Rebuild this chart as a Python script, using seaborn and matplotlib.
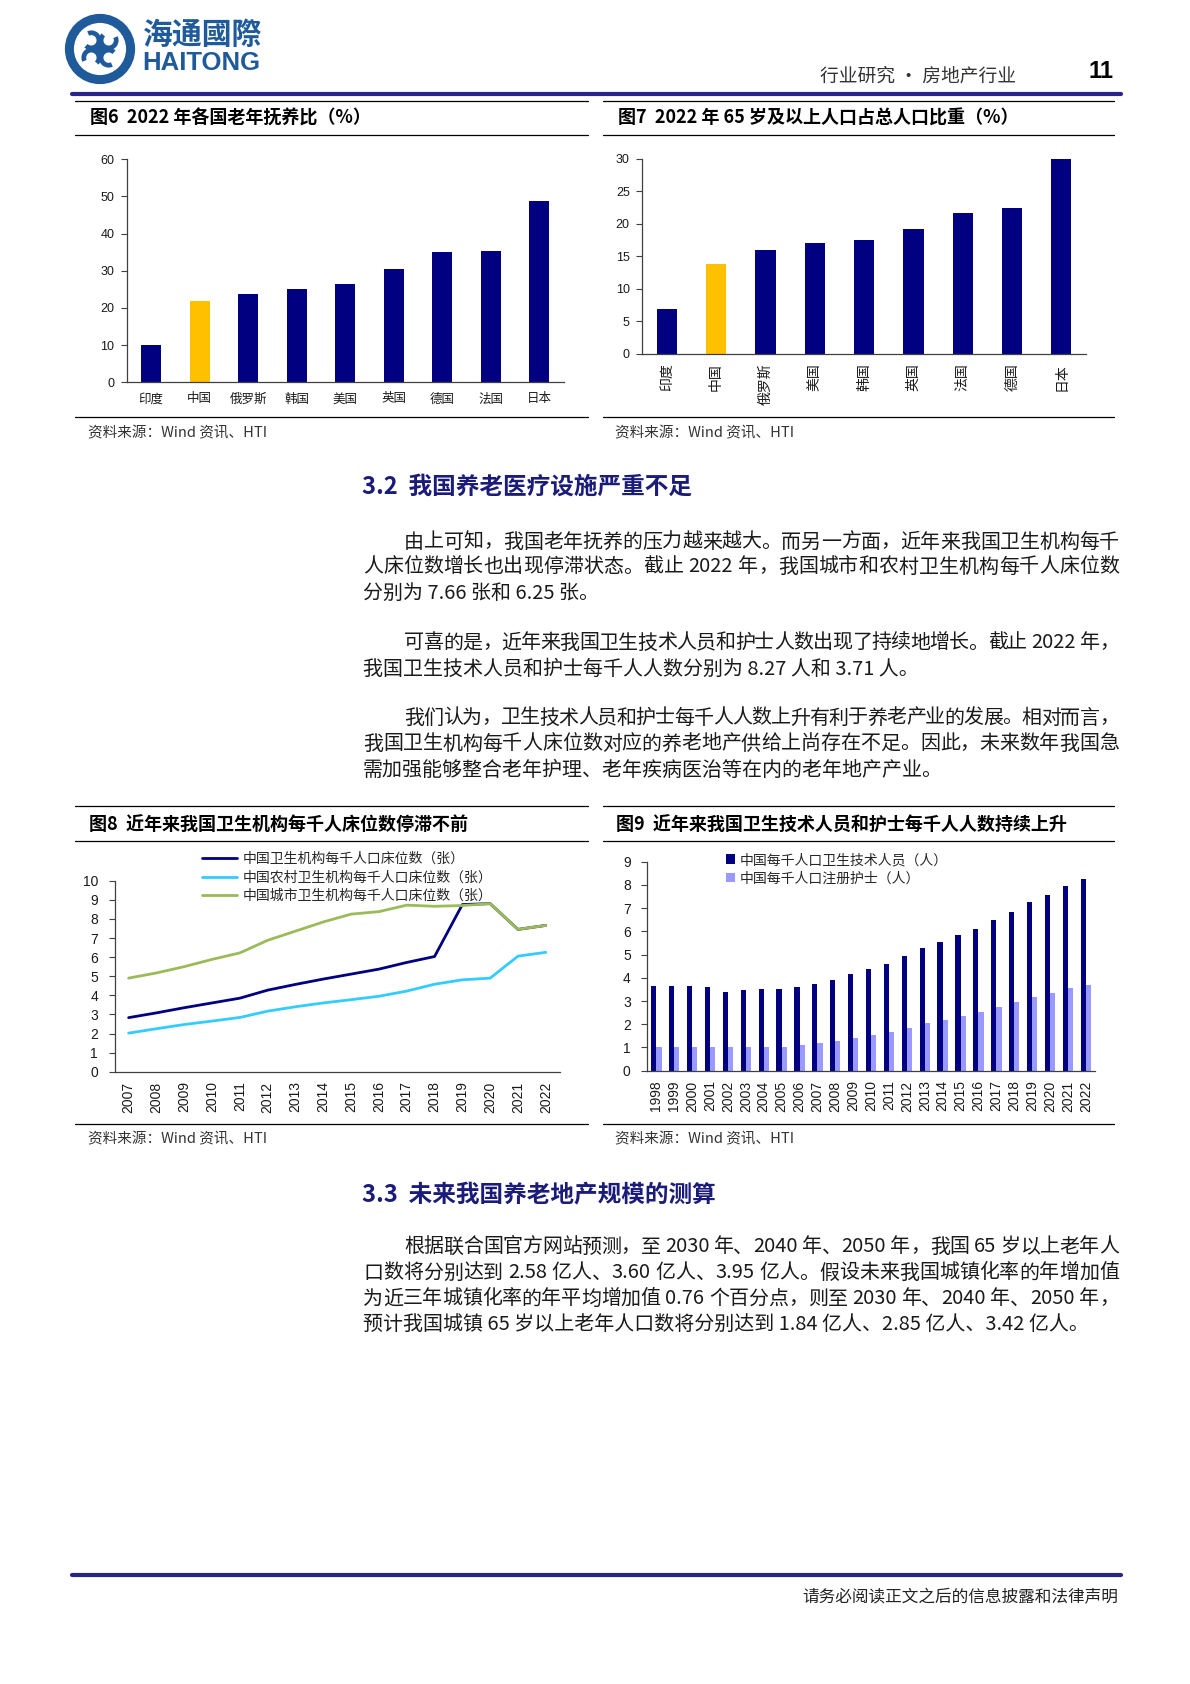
import re
import numpy as np
import pandas as pd
import matplotlib
matplotlib.use('Agg')
import matplotlib.pyplot as plt
import seaborn as sns
from matplotlib.lines import Line2D
from matplotlib.patches import Circle, Arc, Polygon

# ---------------- data ----------------
fig6_countries = ['印度', '中国', '俄罗斯', '韩国', '美国', '英国', '德国', '法国', '日本']
fig6_values = [10.0, 22.0, 23.8, 25.0, 26.5, 30.4, 35.1, 35.4, 48.8]

fig7_countries = ['印度', '中国', '俄罗斯', '美国', '韩国', '英国', '法国', '德国', '日本']
fig7_values = [6.9, 13.8, 15.9, 17.1, 17.5, 19.2, 21.7, 22.5, 30.0]

fig8_years = list(range(2007, 2023))
fig8_total = [2.83, 3.08, 3.35, 3.60, 3.85, 4.27, 4.57, 4.85, 5.11, 5.37, 5.72, 6.03, 8.75, 8.80, 7.45, 7.66]
fig8_rural = [2.02, 2.25, 2.47, 2.65, 2.84, 3.17, 3.40, 3.60, 3.77, 3.95, 4.22, 4.58, 4.81, 4.90, 6.05, 6.25]
fig8_urban = [4.90, 5.17, 5.50, 5.88, 6.22, 6.88, 7.36, 7.84, 8.25, 8.38, 8.72, 8.66, 8.70, 8.80, 7.45, 7.66]
fig8_labels = ['中国卫生机构每千人口床位数（张）',
               '中国农村卫生机构每千人口床位数（张）',
               '中国城市卫生机构每千人口床位数（张）']

fig9_years = [str(y) for y in range(1998, 2023)]
fig9_tech = [3.64, 3.64, 3.63, 3.62, 3.41, 3.48, 3.53, 3.50, 3.60, 3.72, 3.90, 4.15, 4.39,
             4.58, 4.94, 5.27, 5.56, 5.84, 6.12, 6.47, 6.83, 7.26, 7.57, 7.97, 8.27]
fig9_nurse = [1.00, 1.02, 1.02, 1.03, 1.00, 1.00, 1.03, 1.03, 1.09, 1.18, 1.27, 1.39, 1.52,
              1.66, 1.85, 2.04, 2.20, 2.37, 2.54, 2.74, 2.94, 3.18, 3.34, 3.56, 3.71]
fig9_labels = ['中国每千人口卫生技术人员（人）', '中国每千人口注册护士（人）']

# ---------------- style ----------------
sns.set_theme(style='white')
CJK = 'Noto Sans CJK SC'
plt.rcParams['font.family'] = ['Liberation Sans', CJK, 'DejaVu Sans']
plt.rcParams['axes.unicode_minus'] = False

NAVY = '#000080'
CHINA = '#FFC000'
CYAN = '#33CCFF'
GREEN = '#9BBB59'
LAV = '#9999FF'
HEAD = '#1B1B7A'
AXC = '#404040'
TXT = '#1a1a1a'

W, H = 1190, 1684
fig = plt.figure(figsize=(W / 100, H / 100), dpi=100)
fig.patch.set_facecolor('white')
renderer = fig.canvas.get_renderer()


def T(x, y, s, size, ha='left', va='center', family=None, **kw):
    return fig.text(x / W, 1 - y / H, s, fontsize=size, ha=ha, va=va,
                    family=family if family else [CJK, 'DejaVu Sans'], **kw)


def JT(x0, x1, y, s, size, **kw):
    """Justified line of body text between pixel x0 and x1."""
    toks = re.findall(r'[A-Za-z0-9.%]+| |.', s)
    objs, widths = [], []
    for t in toks:
        if t == ' ':
            objs.append(None)
            widths.append(0.25 * size * 100 / 72)
        else:
            o = T(0, y, t, size, **kw)
            objs.append(o)
            widths.append(o.get_window_extent(renderer).width)
    gap = (x1 - x0 - sum(widths)) / max(len(toks) - 1, 1)
    x = x0
    for o, w in zip(objs, widths):
        if o is not None:
            o.set_x(x / W)
        x += w + gap


def HL(x1, x2, y, lw=0.8, color='black'):
    fig.add_artist(Line2D([x1 / W, x2 / W], [1 - y / H, 1 - y / H],
                          transform=fig.transFigure, lw=lw, color=color))


def AX(l, t, r, b):
    return fig.add_axes([l / W, 1 - b / H, (r - l) / W, (b - t) / H])


def style_axes(ax, ymax, ystep, xlo, xhi, fs, xpad, ypad):
    ax.set_ylim(0, ymax)
    ax.set_yticks(np.arange(0, ymax + 1e-9, ystep))
    ax.set_xlim(xlo, xhi)
    ax.set_xticks(np.arange(xlo, xhi + 1e-9, 1.0), minor=True)
    for s in ['top', 'right']:
        ax.spines[s].set_visible(False)
    for s in ['left', 'bottom']:
        ax.spines[s].set_color(AXC)
        ax.spines[s].set_linewidth(0.9)
    ax.tick_params(axis='x', which='major', length=0, pad=xpad, labelsize=fs, colors=TXT)
    ax.tick_params(axis='x', which='minor', length=4, width=0.8, direction='out', color=AXC)
    ax.tick_params(axis='y', which='major', length=4, width=0.8, direction='out',
                   color=AXC, pad=ypad, labelsize=fs, labelcolor=TXT, left=True)
    ax.set_xlabel('')
    ax.set_ylabel('')
    ax.grid(False)
    ax.set_facecolor('white')


# ---------------- header ----------------
lax = fig.add_axes([64 / W, 1 - 85 / H, 72 / W, 72 / H])
lax.set_xlim(-1, 1)
lax.set_ylim(-1, 1)
lax.set_aspect('equal')
lax.axis('off')
LOGO = '#1F5B9B'
lax.add_patch(Circle((0, 0), 0.85, fill=False, lw=6.5, color=LOGO))
for k in range(4):
    a = np.deg2rad(45 + 90 * k)
    cx, cy = 0.34 * np.cos(a), 0.34 * np.sin(a)
    lax.add_patch(Arc((cx, cy), 0.42, 0.42, angle=np.rad2deg(a) + 90,
                      theta1=0, theta2=250, lw=3.4, color=LOGO))
lax.add_patch(Polygon([[0, 0.12], [0.12, 0], [0, -0.12], [-0.12, 0]], closed=True, color=LOGO))

T(143, 35, '海通國際', 21.5, family=[CJK], color=LOGO, fontweight='bold')
T(142, 63, 'HAITONG', 18.5, family=['Liberation Sans'], color=LOGO, fontweight='bold')
T(1016, 76, '行业研究 · 房地产行业', 13.5, ha='right', color='#333333')
T(1113, 71, '11', 17, ha='right', family=['Liberation Sans'], fontweight='bold', color='black')
HL(72, 1121, 94, lw=3.0, color='#29248A')

# ---------------- figure 6 / 7 frames ----------------
TS = 13
HL(75, 588, 101, lw=0.9)
HL(603, 1114, 101, lw=0.9)
T(90, 118, '图6  2022 年各国老年抚养比（%）', TS, fontweight='bold', color='black')
T(618, 118, '图7  2022 年 65 岁及以上人口占总人口比重（%）', TS, fontweight='bold', color='black')
HL(75, 588, 135, lw=0.9)
HL(603, 1114, 135, lw=0.9)
HL(75, 588, 417, lw=0.9)
HL(603, 1114, 417, lw=0.9)
T(88, 433, '资料来源：Wind 资讯、HTI', 10.5, color='#333333')
T(615, 433, '资料来源：Wind 资讯、HTI', 10.5, color='#333333')

# figure 6
ax6 = AX(126.8, 159.3, 563.5, 382.3)
df6 = pd.DataFrame({'country': fig6_countries, 'value': fig6_values})
pal6 = {c: (CHINA if c == '中国' else NAVY) for c in fig6_countries}
sns.barplot(data=df6, x='country', y='value', hue='country', palette=pal6,
            order=fig6_countries, width=0.41, saturation=1, legend=False,
            linewidth=0, ax=ax6)
style_axes(ax6, 60, 10, -0.5, len(fig6_countries) - 0.5, 9, 8, 5)

# figure 7
ax7 = AX(642.2, 158.7, 1086, 354)
df7 = pd.DataFrame({'country': fig7_countries, 'value': fig7_values})
pal7 = {c: (CHINA if c == '中国' else NAVY) for c in fig7_countries}
sns.barplot(data=df7, x='country', y='value', hue='country', palette=pal7,
            order=fig7_countries, width=0.41, saturation=1, legend=False,
            linewidth=0, ax=ax7)
style_axes(ax7, 30, 5, -0.5, len(fig7_countries) - 0.5, 9, 7, 5)
for lab in ax7.get_xticklabels():
    lab.set_rotation(90)
    lab.set_va('top')
    lab.set_ha('center')
    lab.set_fontsize(10)

# ---------------- body text 3.2 ----------------
BS = 14.4
XR = 1119
T(362, 487, '3.2  我国养老医疗设施严重不足', 17, color=HEAD, fontweight='bold')
JT(404, XR, 542, '由上可知，我国老年抚养的压力越来越大。而另一方面，近年来我国卫生机构每千', BS, color=TXT)
JT(363, XR, 567, '人床位数增长也出现停滞状态。截止 2022 年，我国城市和农村卫生机构每千人床位数', BS, color=TXT)
T(363, 593, '分别为 7.66 张和 6.25 张。', BS, color=TXT)
JT(404, XR, 643, '可喜的是，近年来我国卫生技术人员和护士人数出现了持续地增长。截止 2022 年，', BS, color=TXT)
T(363, 669, '我国卫生技术人员和护士每千人人数分别为 8.27 人和 3.71 人。', BS, color=TXT)
JT(404, XR, 718, '我们认为，卫生技术人员和护士每千人人数上升有利于养老产业的发展。相对而言，', BS, color=TXT)
JT(363, XR, 744, '我国卫生机构每千人床位数对应的养老地产供给上尚存在不足。因此，未来数年我国急', BS, color=TXT)
T(363, 770, '需加强能够整合老年护理、老年疾病医治等在内的老年地产产业。', BS, color=TXT)

# ---------------- figure 8 / 9 frames ----------------
HL(75, 588, 806, lw=0.9)
HL(603, 1114, 806, lw=0.9)
T(89, 825, '图8  近年来我国卫生机构每千人床位数停滞不前', TS, fontweight='bold', color='black')
T(616, 825, '图9  近年来我国卫生技术人员和护士每千人人数持续上升', TS, fontweight='bold', color='black')
HL(75, 588, 841, lw=0.9)
HL(603, 1114, 841, lw=0.9)
HL(75, 588, 1124, lw=0.9)
HL(603, 1114, 1124, lw=0.9)
T(88, 1139, '资料来源：Wind 资讯、HTI', 10.5, color='#333333')
T(615, 1139, '资料来源：Wind 资讯、HTI', 10.5, color='#333333')

# figure 8
ax8 = AX(114.7, 880.7, 559.7, 1071.7)
for vals, col, lab in [(fig8_total, NAVY, fig8_labels[0]),
                       (fig8_rural, CYAN, fig8_labels[1]),
                       (fig8_urban, GREEN, fig8_labels[2])]:
    sns.lineplot(x=fig8_years, y=vals, color=col, lw=2.0, label=lab, ax=ax8)
style_axes(ax8, 10, 1, fig8_years[0] - 0.5, fig8_years[-1] + 0.5, 10, 7, 8)
ax8.set_xticks(fig8_years)
ax8.set_xticklabels([str(y) for y in fig8_years], rotation=90, va='top', ha='center')
ax8.tick_params(axis='x', which='major', length=0, pad=7, labelsize=10)
h8, l8 = ax8.get_legend_handles_labels()
ax8.legend(h8, l8, loc='upper left', bbox_to_anchor=(202 / W, 1 - 852 / H),
           bbox_transform=fig.transFigure, frameon=False, borderpad=0, borderaxespad=0,
           handlelength=2.5, handletextpad=0.4, labelspacing=0.32,
           prop={'family': [CJK], 'size': 10})

# figure 9
ax9 = AX(647.4, 861.7, 1094.8, 1070.7)
df9 = pd.DataFrame({
    'year': fig9_years * 2,
    'value': fig9_tech + fig9_nurse,
    'series': [fig9_labels[0]] * len(fig9_years) + [fig9_labels[1]] * len(fig9_years),
})
sns.barplot(data=df9, x='year', y='value', hue='series', palette=[NAVY, LAV],
            order=fig9_years, hue_order=fig9_labels, width=0.58, saturation=1,
            linewidth=0, ax=ax9)
style_axes(ax9, 9, 1, -0.5, len(fig9_years) - 0.5, 10, 7, 8)
for lab in ax9.get_xticklabels():
    lab.set_rotation(90)
    lab.set_va('top')
    lab.set_ha('center')
h9, l9 = ax9.get_legend_handles_labels()
ax9.legend(h9, l9, loc='upper left', bbox_to_anchor=(726 / W, 1 - 853 / H),
           bbox_transform=fig.transFigure, frameon=False, borderpad=0, borderaxespad=0,
           handlelength=0.65, handleheight=0.65, handletextpad=0.3, labelspacing=0.32,
           prop={'family': [CJK], 'size': 10})

# ---------------- body text 3.3 ----------------
T(362, 1195, '3.3  未来我国养老地产规模的测算', 17, color=HEAD, fontweight='bold')
JT(404, XR, 1247, '根据联合国官方网站预测，至 2030 年、2040 年、2050 年，我国 65 岁以上老年人', BS, color=TXT)
JT(363, XR, 1273, '口数将分别达到 2.58 亿人、3.60 亿人、3.95 亿人。假设未来我国城镇化率的年增加值', BS, color=TXT)
JT(363, XR, 1299, '为近三年城镇化率的年平均增加值 0.76 个百分点，则至 2030 年、2040 年、2050 年，', BS, color=TXT)
T(363, 1324, '预计我国城镇 65 岁以上老年人口数将分别达到 1.84 亿人、2.85 亿人、3.42 亿人。', BS, color=TXT)

# ---------------- footer ----------------
HL(72, 1121, 1575, lw=3.0, color='#29248A')
T(1118, 1598, '请务必阅读正文之后的信息披露和法律声明', 12, ha='right', color='#222222')

fig.savefig('out.png', dpi=100, facecolor='white')
